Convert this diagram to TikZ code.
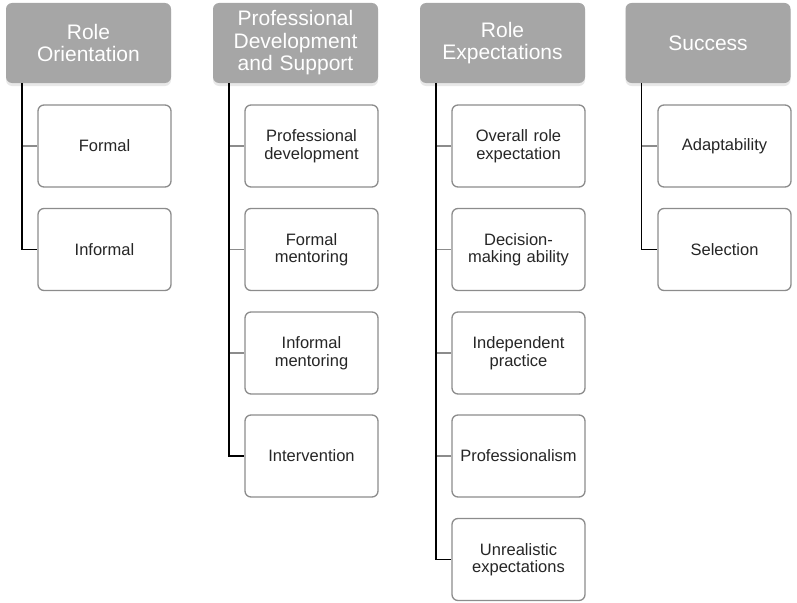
\documentclass[tikz,border=0pt]{standalone}
\usepackage{fontspec}
\setmainfont{Liberation Sans}
\usetikzlibrary{calc, shadows}
\definecolor{headgray}{RGB}{166,166,166}
\definecolor{boxline}{RGB}{140,140,140}
\definecolor{textdark}{RGB}{38,38,38}
\tikzset{
  head/.style={rectangle, rounded corners=6pt, fill=headgray, text=white,
    minimum width=165pt, minimum height=80pt, text width=158pt, align=center,
    font=\fontsize{21}{22.5}\selectfont,
    drop shadow={shadow xshift=0pt, shadow yshift=-3pt, opacity=0.18}},
  item/.style={rectangle, rounded corners=6pt, draw=boxline, line width=1.3pt,
    fill=white, minimum width=133pt, minimum height=82pt, text width=126pt,
    align=center, text=textdark, font=\fontsize{16.5}{17.5}\selectfont},
  trunk/.style={black, line width=1.4pt},
  branch/.style={boxline, line width=1.1pt}
}

\begin{document}
\begin{tikzpicture}[x=1pt, y=-1pt]
\useasboundingbox (0,0) rectangle (797,602);
% headers
\node[head] (h1) at (88.5,43) {Role\\Orientation};
\node[head] (h2) at (295.5,43) {Professional\\Development\\and Support};
\node[head] (h3) at (502.5,43) {Role\\Expectations};
\node[head] (h4) at (708,43) {Success};
% children
\node[item] (c1a) at (104.5,146) {Formal};
\node[item] (c1b) at (104.5,249.5) {Informal};
\node[item] (c2a) at (311.5,146) {Professional\\development};
\node[item] (c2b) at (311.5,249.5) {Formal\\mentoring};
\node[item] (c2c) at (311.5,353) {Informal\\mentoring};
\node[item] (c2d) at (311.5,456) {Intervention};
\node[item] (c3a) at (518.5,146) {Overall role\\expectation};
\node[item] (c3b) at (518.5,249.5) {Decision-\\making ability};
\node[item] (c3c) at (518.5,353) {Independent\\practice};
\node[item] (c3d) at (518.5,456) {Professionalism};
\node[item] (c3e) at (518.5,559.5) {Unrealistic\\expectations};
\node[item] (c4a) at (724.5,146) {Adaptability};
\node[item] (c4b) at (724.5,249.5) {Selection};
% trunks
\coordinate (t1) at ($(h1.south west)+(16,0)$);
\coordinate (t2) at ($(h2.south west)+(16,0)$);
\coordinate (t3) at ($(h3.south west)+(16,0)$);
\coordinate (t4) at ($(h4.south west)+(16,0)$);
\draw[branch] (t1 |- c1a.west) -- (c1a.west);
\foreach \c in {c2a,c2b,c2c} \draw[branch] (t2 |- \c.west) -- (\c.west);
\foreach \c in {c3a,c3b,c3c,c3d} \draw[branch] (t3 |- \c.west) -- (\c.west);
\draw[branch] (t4 |- c4a.west) -- (c4a.west);
\draw[trunk] (t1) |- (c1b.west);
\draw[trunk] (t2) |- (c2d.west);
\draw[trunk] (t3) |- (c3e.west);
\draw[trunk] (t4) |- (c4b.west);
\end{tikzpicture}
\end{document}
